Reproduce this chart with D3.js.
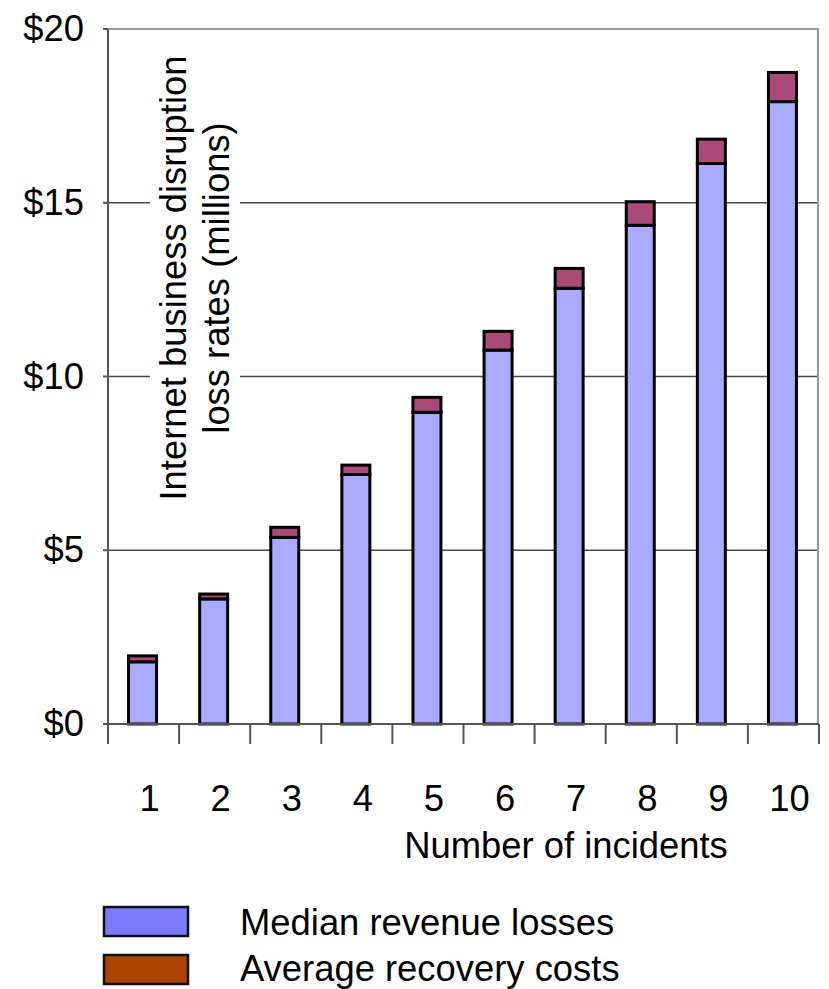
<!DOCTYPE html>
<html>
<head>
<meta charset="utf-8">
<script src="https://cdn.jsdelivr.net/npm/d3@7"></script>
<style>
  html, body { margin: 0; padding: 0; background: #fff; }
  text { font-family: "Liberation Sans", Arial, sans-serif; fill: #000; }
</style>
</head>
<body>
<svg id="chart" width="829" height="989"></svg>
<script>
// Internet business disruption losses by number of incidents ($ millions)
const incidents = ["1", "2", "3", "4", "5", "6", "7", "8", "9", "10"];
const medianRevenueLosses = [1.79, 3.6, 5.37, 7.18, 8.97, 10.76, 12.54, 14.35, 16.13, 17.91];
const averageRecoveryCosts = [0.17, 0.14, 0.29, 0.27, 0.43, 0.54, 0.57, 0.68, 0.70, 0.84];
const yTicks = [0, 5, 10, 15, 20];
const seriesNames = ["Median revenue losses", "Average recovery costs"];

const svg = d3.select("#chart");
const plotLeft = 108, plotRight = 819, plotTop = 29, plotBottom = 724;
const fontSize = 36.4;

const x = d3.scaleBand().domain(incidents).range([plotLeft, plotRight]).paddingInner(0).paddingOuter(0);
const y = d3.scaleLinear().domain([0, 20]).range([plotBottom, plotTop]);

// gridlines
svg.append("g").selectAll("line")
  .data(yTicks.filter(d => d > 0 && d < 20))
  .join("line")
  .attr("x1", plotLeft).attr("x2", plotRight)
  .attr("y1", d => y(d)).attr("y2", d => y(d))
  .attr("stroke", "#4a4a4a").attr("stroke-width", 1.6);

// plot frame (top and right edges)
svg.append("path")
  .attr("d", `M${plotLeft - 5},${y(20)}H${plotRight - 1}V${plotBottom}`)
  .attr("fill", "none").attr("stroke", "#9a9a9a").attr("stroke-width", 2.2);

// axis title with white backing that masks the gridlines behind it
svg.append("rect")
  .attr("x", 150).attr("y", 48).attr("width", 90).attr("height", 460)
  .attr("fill", "#fff");
const yTitle = svg.append("text")
  .attr("transform", "translate(0,278) rotate(-90)")
  .attr("text-anchor", "middle")
  .attr("font-size", fontSize);
yTitle.append("tspan").attr("x", 0).attr("y", 186).text("Internet business disruption");
yTitle.append("tspan").attr("x", 0).attr("y", 229).text("loss rates (millions)");

// stacked bars
const stack = d3.stack().keys([0, 1]).value((d, k) => d[k]);
const rows = incidents.map((c, i) => { const r = [medianRevenueLosses[i], averageRecoveryCosts[i]]; r.cat = c; return r; });
const layers = stack(rows);
const barFills = ["#aaaaff", "#aa4a78"];
const barW = 28;

svg.append("g").selectAll("g")
  .data(layers)
  .join("g")
  .attr("fill", (d, i) => barFills[i])
  .selectAll("rect")
  .data(d => d)
  .join("rect")
  .attr("x", d => x(d.data.cat) + x.bandwidth() / 2 - barW / 2 - 1)
  .attr("width", barW)
  .attr("y", d => y(d[1]))
  .attr("height", d => y(d[0]) - y(d[1]))
  .attr("stroke", "#000").attr("stroke-width", 3);

// y axis
svg.append("line")
  .attr("x1", plotLeft).attr("x2", plotLeft).attr("y1", plotTop).attr("y2", plotBottom)
  .attr("stroke", "#555").attr("stroke-width", 2);
svg.append("g").selectAll("line")
  .data(yTicks)
  .join("line")
  .attr("x1", plotLeft - 5).attr("x2", plotLeft)
  .attr("y1", d => y(d)).attr("y2", d => y(d))
  .attr("stroke", "#555").attr("stroke-width", 2);
svg.append("g").selectAll("text")
  .data(yTicks)
  .join("text")
  .attr("x", 84).attr("y", d => y(d) + 12)
  .attr("text-anchor", "end")
  .attr("font-size", fontSize)
  .text(d => "$" + d);

// x axis
svg.append("line")
  .attr("x1", plotLeft - 5).attr("x2", plotRight).attr("y1", plotBottom).attr("y2", plotBottom)
  .attr("stroke", "#555").attr("stroke-width", 2);
const bounds = incidents.map(c => x(c)).concat([plotRight]);
svg.append("g").selectAll("line")
  .data(bounds)
  .join("line")
  .attr("x1", d => d).attr("x2", d => d)
  .attr("y1", plotBottom).attr("y2", plotBottom + 20)
  .attr("stroke", "#555").attr("stroke-width", 2);
svg.append("g").selectAll("text")
  .data(incidents)
  .join("text")
  .attr("x", d => x(d) + x.bandwidth() / 2 + 6)
  .attr("y", 811)
  .attr("text-anchor", "middle")
  .attr("font-size", fontSize)
  .text(d => d);
svg.append("text")
  .attr("x", 566).attr("y", 858)
  .attr("text-anchor", "middle")
  .attr("font-size", fontSize)
  .text("Number of incidents");

// legend
const legendFills = ["#7b7bff", "#aa4400"];
const legend = svg.append("g").selectAll("g")
  .data(seriesNames)
  .join("g")
  .attr("transform", (d, i) => `translate(0,${907 + i * 48})`);
legend.append("rect")
  .attr("x", 104).attr("y", 0).attr("width", 84).attr("height", 29)
  .attr("fill", (d, i) => legendFills[i])
  .attr("stroke", "#111").attr("stroke-width", 2.5);
legend.append("text")
  .attr("x", 240).attr("y", (d, i) => 28 - i * 2)
  .attr("font-size", fontSize)
  .text(d => d);
</script>
</body>
</html>
